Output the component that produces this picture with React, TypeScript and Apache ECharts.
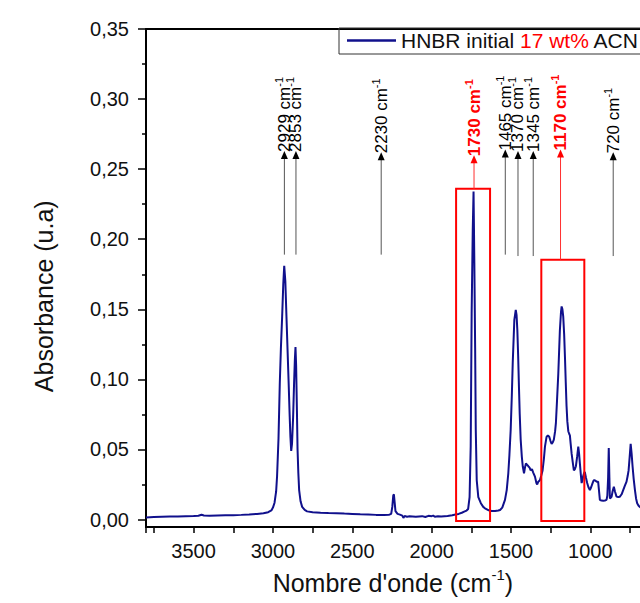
import React, { useEffect, useRef } from 'react';
import * as echarts from 'echarts';

// Spectrum (wavenumber in cm-1, absorbance)
const wavenumbers = [
  3800, 3750, 3700, 3650, 3600, 3550, 3500, 3470, 3450, 3435, 3400, 3350, 3300, 3250, 3200, 3150, 3100, 3060, 3030, 3010,
  3000, 2990, 2980, 2974, 2965, 2957, 2950, 2942, 2935, 2929, 2922, 2915, 2908, 2901, 2895, 2890, 2885, 2880, 2873, 2867,
  2862, 2858, 2854, 2849, 2845, 2840, 2835, 2826, 2816, 2800, 2785, 2750, 2700, 2650, 2600, 2550, 2500, 2450, 2400, 2350,
  2300, 2270, 2255, 2248, 2242, 2238, 2233, 2228, 2215, 2200, 2185, 2178, 2170, 2155, 2140, 2100, 2060, 2040, 2020, 2000,
  1990, 1980, 1960, 1940, 1900, 1870, 1850, 1830, 1810, 1795, 1780, 1770, 1761, 1754, 1748, 1741, 1736, 1731, 1726, 1722,
  1716, 1706, 1690, 1675, 1664, 1640, 1621, 1600, 1580, 1569, 1555, 1538, 1527, 1517, 1510, 1502, 1495, 1489, 1479, 1470,
  1465, 1460, 1455, 1450, 1445, 1439, 1432, 1426, 1418, 1412, 1406, 1398, 1391, 1383, 1376, 1368, 1360, 1349, 1340, 1335,
  1328, 1318, 1310, 1301, 1293, 1286, 1276, 1268, 1259, 1251, 1244, 1237, 1230, 1222, 1217, 1210, 1202, 1192, 1185, 1181,
  1176, 1171, 1165, 1160, 1155, 1150, 1145, 1139, 1133, 1129, 1124, 1118, 1110, 1104, 1097, 1091, 1083, 1076, 1071, 1066,
  1060, 1055, 1050, 1045, 1040, 1035, 1028, 1020, 1012, 1003, 995, 986, 979, 972, 960, 951, 945, 940, 930, 919,
  908, 898, 893, 888, 884, 880, 877, 871, 866, 860, 852, 845, 835, 825, 814, 803, 793, 783, 772, 765,
  759, 752, 746, 740, 734, 727, 719, 712, 705, 697, 689, 680
];
const absorbance = [
  0.0015, 0.0017, 0.0019, 0.0021, 0.0022, 0.0024, 0.0025, 0.0027, 0.0034, 0.0029, 0.0027, 0.0029, 0.003, 0.0031, 0.0033, 0.0036, 0.004, 0.0044, 0.0052, 0.0065,
  0.0085, 0.012, 0.02, 0.031, 0.058, 0.097, 0.122, 0.145, 0.168, 0.181, 0.17, 0.145, 0.121, 0.097, 0.075, 0.059, 0.049, 0.054, 0.073, 0.097,
  0.114, 0.123, 0.11, 0.078, 0.05, 0.033, 0.021, 0.013, 0.009, 0.0068, 0.0058, 0.0052, 0.0048, 0.0046, 0.0045, 0.0042, 0.004, 0.0037, 0.0035, 0.0033,
  0.0032, 0.0033, 0.004, 0.009, 0.017, 0.018, 0.012, 0.006, 0.004, 0.0035, 0.0028, 0.0012, 0.0025, 0.002, 0.0023, 0.002, 0.0024, 0.0018, 0.0026, 0.0024,
  0.0028, 0.002, 0.0023, 0.0022, 0.0025, 0.003, 0.0036, 0.004, 0.0048, 0.0056, 0.0064, 0.0075, 0.016, 0.052, 0.147, 0.207, 0.234, 0.183, 0.123, 0.064,
  0.028, 0.016, 0.0116, 0.009, 0.008, 0.0065, 0.006, 0.006, 0.0064, 0.0068, 0.0085, 0.014, 0.021, 0.033, 0.046, 0.064, 0.088, 0.112, 0.1425, 0.1496,
  0.146, 0.135, 0.117, 0.095, 0.075, 0.057, 0.045, 0.038, 0.033, 0.037, 0.04, 0.039, 0.038, 0.037, 0.035, 0.036, 0.0335, 0.0306, 0.026, 0.025,
  0.027, 0.028, 0.031, 0.035, 0.043, 0.052, 0.059, 0.06, 0.059, 0.056, 0.054, 0.055, 0.057, 0.063, 0.069, 0.085, 0.104, 0.135, 0.148, 0.152,
  0.15, 0.145, 0.132, 0.116, 0.098, 0.081, 0.07, 0.063, 0.061, 0.06, 0.054, 0.047, 0.04, 0.035, 0.036, 0.038, 0.045, 0.052, 0.047, 0.04,
  0.032, 0.026, 0.028, 0.031, 0.033, 0.034, 0.03, 0.026, 0.023, 0.021, 0.023, 0.026, 0.028, 0.028, 0.027, 0.027, 0.02, 0.014, 0.0135, 0.0134,
  0.0136, 0.014, 0.017, 0.03, 0.051, 0.03, 0.015, 0.0155, 0.0163, 0.02, 0.0234, 0.02, 0.0163, 0.016, 0.0163, 0.018, 0.021, 0.024, 0.027, 0.031,
  0.035, 0.045, 0.054, 0.047, 0.038, 0.029, 0.021, 0.015, 0.0116, 0.01, 0.009, 0.0085
];

const seriesName = 'HNBR initial 17 wt% ACN';

// Peak annotations (arrow position in cm-1, arrow base / tip in absorbance units)
const peakLabels = ['2929', '2853', '2230', '1730', '1465', '1370', '1345', '1170', '720'];
const arrowPositions = [2928, 2855, 2318, 1733, 1536, 1456, 1360, 1188, 856];
const arrowBases = [0.189, 0.189, 0.189, 0.236, 0.189, 0.188, 0.188, 0.1854, 0.188];
const arrowTips = [0.263, 0.263, 0.262, 0.26, 0.264, 0.263, 0.263, 0.264, 0.262];
const peakHighlighted = [false, false, false, true, false, false, false, true, false];

// Highlight boxes (cm-1 range and absorbance range)
const boxStarts = [1846, 1309];
const boxEnds = [1632, 1038];
const boxTops = [0.236, 0.1854];
const boxBottoms = [-0.001, -0.001];

const FONT = "'Liberation Sans', Arial, Helvetica, sans-serif";
const LINE_COLOR = '#10108c';

export default function App() {
  const ref = useRef<HTMLDivElement>(null);

  useEffect(() => {
    if (!ref.current) return;
    const chart = echarts.init(ref.current, null, { renderer: 'svg' });
    const spectrum = wavenumbers.map((w, i) => [w, absorbance[i]]);
    const arrows = arrowPositions.map((p, i) => [p, arrowBases[i], arrowTips[i], i]);
    const boxes = boxStarts.map((s, i) => [s, boxBottoms[i], boxEnds[i], boxTops[i]]);

    chart.setOption({
      animation: false,
      textStyle: { fontFamily: FONT },
      grid: { left: 146, top: 29, right: 50.3, bottom: 83.5, containLabel: false },
      legend: {
        data: [{ name: seriesName, icon: 'rect' }],
        left: 339,
        top: 28,
        itemWidth: 49,
        itemHeight: 2.5,
        padding: [2, 8, 3, 8],
        borderColor: '#333',
        borderWidth: 1,
        selectedMode: false,
        itemStyle: { color: LINE_COLOR },
        formatter: () => '{a|HNBR initial }{r|17 wt%}{a| ACN}',
        textStyle: {
          rich: {
            a: { fontSize: 21, color: '#111', fontFamily: FONT },
            r: { fontSize: 21, color: '#ff0000', fontFamily: FONT },
          },
        },
      },
      xAxis: [
        {
          type: 'value',
          min: 500,
          max: 3800,
          interval: 250,
          inverse: true,
          position: 'bottom',
          offset: 7.5,
          axisLine: { show: true, onZero: false, lineStyle: { color: '#000', width: 2 } },
          axisTick: { show: true, length: 6, lineStyle: { color: '#000', width: 1.5 } },
          axisLabel: {
            formatter: (v: number) => (v % 500 === 0 && v > 500 && v < 3800 ? String(v) : ''),
            fontSize: 20,
            color: '#111',
            margin: 14,
            fontFamily: FONT,
          },
          splitLine: { show: false },
          name: "{n|Nombre d'onde (cm}{s|-1}{n|)}",
          nameLocation: 'middle',
          nameGap: 40,
          nameTextStyle: {
            padding: [0, 30, 0, 0],
            rich: {
              n: { fontSize: 25, color: '#111', lineHeight: 32, fontFamily: FONT },
              s: { fontSize: 15, color: '#111', verticalAlign: 'top', lineHeight: 15, fontFamily: FONT },
            },
          },
        },
        {
          type: 'value',
          min: 500,
          max: 3800,
          inverse: true,
          position: 'top',
          axisLine: { show: true, onZero: false, lineStyle: { color: '#000', width: 2 } },
          axisTick: { show: false },
          axisLabel: { show: false },
          splitLine: { show: false },
        },
      ],
      yAxis: {
        type: 'value',
        min: 0,
        max: 0.35,
        interval: 0.05,
        axisLine: { show: true, onZero: false, lineStyle: { color: '#000', width: 2 } },
        axisTick: { show: true, length: 8, lineStyle: { color: '#000', width: 1.5 } },
        minorTick: { show: true, splitNumber: 2, length: 4, lineStyle: { color: '#000', width: 1.5 } },
        axisLabel: {
          formatter: (v: number) => v.toFixed(2).replace('.', ','),
          fontSize: 20,
          color: '#111',
          margin: 17,
          fontFamily: FONT,
        },
        splitLine: { show: false },
        name: 'Absorbance (u.a)',
        nameLocation: 'middle',
        nameGap: 90,
        nameTextStyle: { fontSize: 25, color: '#111', fontFamily: FONT, padding: [0, 44, 0, 0] },
      },
      graphic: [
        {
          type: 'line',
          shape: { x1: 146, y1: 519, x2: 146, y2: 528 },
          style: { stroke: '#000', lineWidth: 2 },
        },
      ],
      series: [
        {
          name: seriesName,
          type: 'line',
          data: spectrum,
          symbol: 'none',
          showSymbol: false,
          smooth: false,
          lineStyle: { color: LINE_COLOR, width: 2 },
          itemStyle: { color: LINE_COLOR },
          z: 2,
        },
        {
          type: 'custom',
          name: 'boxes',
          silent: true,
          data: boxes,
          z: 3,
          renderItem: (_params: any, api: any) => {
            const p1 = api.coord([api.value(0), api.value(1)]);
            const p2 = api.coord([api.value(2), api.value(3)]);
            return {
              type: 'rect',
              shape: {
                x: Math.min(p1[0], p2[0]),
                y: Math.min(p1[1], p2[1]),
                width: Math.abs(p2[0] - p1[0]),
                height: Math.abs(p2[1] - p1[1]),
              },
              style: { fill: 'none', stroke: '#ff0000', lineWidth: 2 },
            };
          },
        },
        {
          type: 'custom',
          name: 'annotations',
          silent: true,
          data: arrows,
          z: 4,
          renderItem: (_params: any, api: any) => {
            const i = api.value(3);
            const base = api.coord([api.value(0), api.value(1)]);
            const tip = api.coord([api.value(0), api.value(2)]);
            const hl = peakHighlighted[i];
            const color = hl ? '#ff0000' : '#000';
            const lineColor = hl ? '#ff3030' : '#555';
            const weight = hl ? 'bold' : 'normal';
            return {
              type: 'group',
              children: [
                {
                  type: 'line',
                  shape: { x1: base[0], y1: base[1], x2: tip[0], y2: tip[1] + 6 },
                  style: { stroke: lineColor, lineWidth: 1 },
                },
                {
                  type: 'polygon',
                  shape: {
                    points: [
                      [tip[0], tip[1]],
                      [tip[0] - 3.5, tip[1] + 8],
                      [tip[0] + 3.5, tip[1] + 8],
                    ],
                  },
                  style: { fill: color },
                },
                {
                  type: 'text',
                  x: tip[0],
                  y: tip[1] + 1,
                  rotation: Math.PI / 2,
                  style: {
                    text: `{n|${peakLabels[i]} cm}{s|-1}`,
                    align: 'left',
                    verticalAlign: 'middle',
                    rich: {
                      n: { fontSize: 17, fontFamily: FONT, fontWeight: weight, fill: color, lineHeight: 22 },
                      s: { fontSize: 11, fontFamily: FONT, fontWeight: weight, fill: color, verticalAlign: 'top', lineHeight: 11 },
                    },
                  },
                },
              ],
            };
          },
        },
      ],
    });

    return () => chart.dispose();
  }, []);

  return (
    <div
      style={{
        position: 'absolute',
        left: 0,
        top: 0,
        width: 640,
        height: 603,
        overflow: 'hidden',
        background: '#fff',
      }}
    >
      <div ref={ref} style={{ width: 720, height: 603 }} />
    </div>
  );
}
